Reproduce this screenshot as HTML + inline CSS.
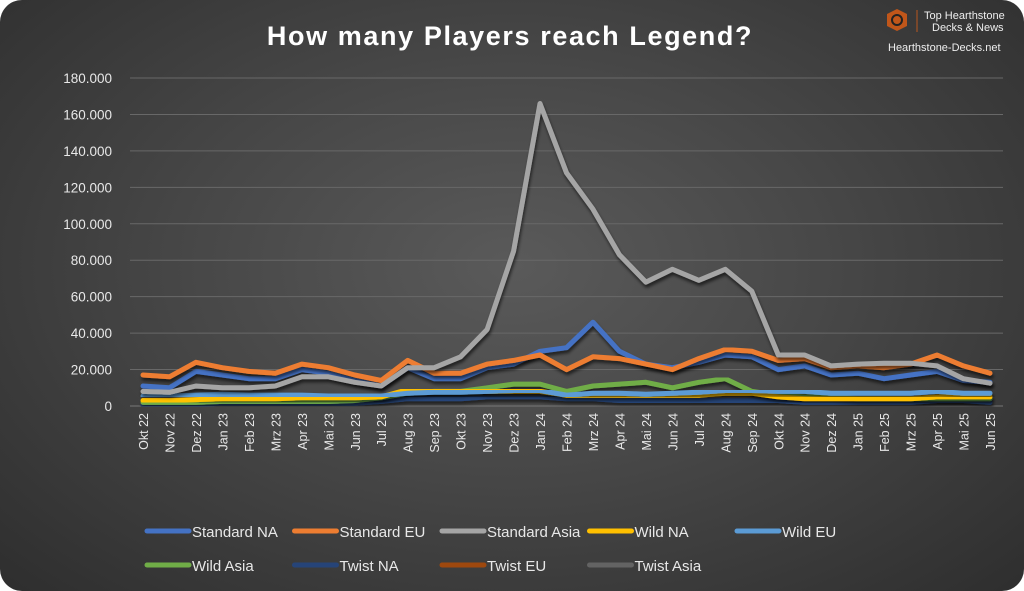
<!DOCTYPE html>
<html><head><meta charset="utf-8"><style>
html,body{margin:0;padding:0;background:#fff;}
#wrap{position:relative;width:1024px;height:591px;overflow:hidden;}
#bg{position:absolute;left:0;top:0;width:1024px;height:591px;border-radius:22px;background:radial-gradient(ellipse at 50% 45%,#5a5a5a 0%,#474747 45%,#2e2e2e 100%);}
svg{position:absolute;left:0;top:0;}
text{font-family:"Liberation Sans",sans-serif;}
</style></head><body>
<div id="wrap">
<div id="bg"></div>
<svg id="chart" width="1024" height="591">
<defs><filter id="sh" x="-5%" y="-5%" width="110%" height="120%"><feDropShadow dx="1" dy="3" stdDeviation="1.5" flood-color="#000" flood-opacity="0.6"/></filter></defs>
<text x="510" y="45" text-anchor="middle" fill="#fff" font-size="27" font-weight="bold" letter-spacing="1.6">How many Players reach Legend?</text>
<g>
<polygon points="897,9 907,14 907,26 897,31 887,26 887,14" fill="#c0561a"/>
<circle cx="897" cy="20" r="5" fill="none" stroke="#222" stroke-width="2"/>
<line x1="917" y1="10" x2="917" y2="32" stroke="#b9561e" stroke-width="1"/>
<text x="924" y="19" fill="#eee" font-size="11">Top Hearthstone</text>
<text x="932" y="31" fill="#eee" font-size="11">Decks &amp; News</text>
<text x="888" y="51" fill="#eee" font-size="11">Hearthstone-Decks.net</text>
</g>
<g id="grid"></g><g id="series"></g><g id="legend"></g>
</svg>
</div>
<script>
const categories=["Okt 22","Nov 22","Dez 22","Jan 23","Feb 23","Mrz 23","Apr 23","Mai 23","Jun 23","Jul 23","Aug 23","Sep 23","Okt 23","Nov 23","Dez 23","Jan 24","Feb 24","Mrz 24","Apr 24","Mai 24","Jun 24","Jul 24","Aug 24","Sep 24","Okt 24","Nov 24","Dez 24","Jan 25","Feb 25","Mrz 25","Apr 25","Mai 25","Jun 25"];
const yTicks=[0,20000,40000,60000,80000,100000,120000,140000,160000,180000];
const yTickLabels=["0","20.000","40.000","60.000","80.000","100.000","120.000","140.000","160.000","180.000"];
const seriesNames=["Standard NA","Standard EU","Standard Asia","Wild NA","Wild EU","Wild Asia","Twist NA","Twist EU","Twist Asia"];
const seriesColors=["#4472c4","#ed7d31","#a5a5a5","#ffc000","#5b9bd5","#70ad47","#264478","#9e480e","#636363"];
const standardNA=[11000,10000,19000,17000,15000,15000,20000,18000,14000,11000,21000,15000,15000,21000,23000,30000,32000,46000,30000,23000,21000,24000,28000,27000,20000,22000,17000,18000,15000,17000,19000,14000,13000];
const standardEU=[17000,16000,24000,21000,19000,18000,23000,21000,17000,14000,25000,18000,18000,23000,25000,28000,20000,27000,26000,23000,20000,26000,31000,30000,25000,26000,21000,22000,21000,23000,28000,22000,18000];
const standardAsia=[8000,7500,11000,10000,10000,11000,16000,16000,13000,11000,21000,21000,27000,42000,85000,166000,128000,108000,83000,68000,75000,69000,75000,63000,28000,28000,22000,23000,23500,23500,22000,15000,12500];
const wildNA=[3000,3000,3500,4000,4000,4000,4500,4500,4500,5000,9000,9000,9000,8000,8000,8000,6000,6000,6000,6000,6000,6000,7000,7000,5000,4000,4000,4000,4000,4000,5000,5000,5000];
const wildEU=[5500,5500,6000,6500,6000,6000,6000,5500,5500,5500,7000,7500,7500,8000,8500,8500,6000,7000,7000,6500,7000,7500,8500,8500,8000,8000,7000,7000,7000,7000,8000,7000,7000];
const wildAsia=[2000,2000,2000,2500,2500,2500,2500,2500,3000,4500,7000,8000,8000,10000,12000,12000,8000,11000,12000,13000,10000,13000,15000,8000,6000,5000,5000,4000,4000,4000,4000,4000,4000];
const twistNA=[500,500,1000,1500,1500,1500,1500,1500,1500,2500,4000,4000,4000,5000,5000,5000,4000,4000,3000,3000,3000,3000,3000,3000,3000,2000,2000,2000,2000,2000,3000,3000,2000];
const twistEU=[500,500,500,500,500,500,500,500,500,500,500,500,500,500,500,500,500,500,500,500,500,500,500,500,500,500,500,500,500,500,500,500,500];
const twistAsia=[1000,1000,1000,1000,1000,1000,1000,1000,1000,1000,1000,1000,1000,1000,1000,1000,1000,1000,1000,1000,1000,1000,1000,1000,1000,1000,1000,1000,1000,1000,1000,1000,1000];
const allSeries=[standardNA,standardEU,standardAsia,wildNA,wildEU,wildAsia,twistNA,twistEU,twistAsia];
const NS="http://www.w3.org/2000/svg";
const X0=143,X1=990,Y0=406,Y1=78,YMAX=180000;
const xs=i=>X0+(X1-X0)*i/(categories.length-1);
const ys=v=>Y0-(Y0-Y1)*v/YMAX;
function mk(t,a,p){const e=document.createElementNS(NS,t);for(const k in a)e.setAttribute(k,a[k]);p.appendChild(e);return e;}
const grid=document.getElementById('grid');
yTicks.forEach((v,i)=>{
  const l=mk('line',{x1:130,x2:1003,y1:ys(v),y2:ys(v),stroke:i===0?'#777':'#686868','stroke-width':1},grid);
  
  
  const t=mk('text',{x:112,y:ys(v)+5,'text-anchor':'end',fill:'#e8e8e8','font-size':13.5},grid);
  t.textContent=yTickLabels[i];
  
  
});
categories.forEach((c,i)=>{
  const x=xs(i);
  const t=mk('text',{x:0,y:0,transform:`translate(${x+5},${413}) rotate(-90)`,'text-anchor':'end',fill:'#e8e8e8','font-size':12.5},grid);
  t.textContent=c;
  
  
});
const sg=document.getElementById('series');
const order=[8,7,6,5,3,4,0,1,2];
order.forEach(s=>{
  const pts=allSeries[s].map((v,i)=>xs(i).toFixed(1)+','+ys(v).toFixed(1)).join(' ');
  const p=mk('polyline',{points:pts,fill:'none',stroke:seriesColors[s],'stroke-width':5,'stroke-linejoin':'round','stroke-linecap':'round',filter:'url(#sh)'},sg);
  
  
});
const lg=document.getElementById('legend');
seriesNames.forEach((n,i)=>{
  const row=i<5?0:1,col=i<5?i:i-5;
  const lx=147+col*147.5,ly=row?565:531;
  const g=mk('g',{},lg);
  
  
  mk('line',{x1:lx,x2:lx+42,y1:ly,y2:ly,stroke:seriesColors[i],'stroke-width':5,'stroke-linecap':'round'},g);
  const t=mk('text',{x:lx+45,y:ly+6,fill:'#e8e8e8','font-size':15},g);
  t.textContent=n;
});
</script>
</body></html>
